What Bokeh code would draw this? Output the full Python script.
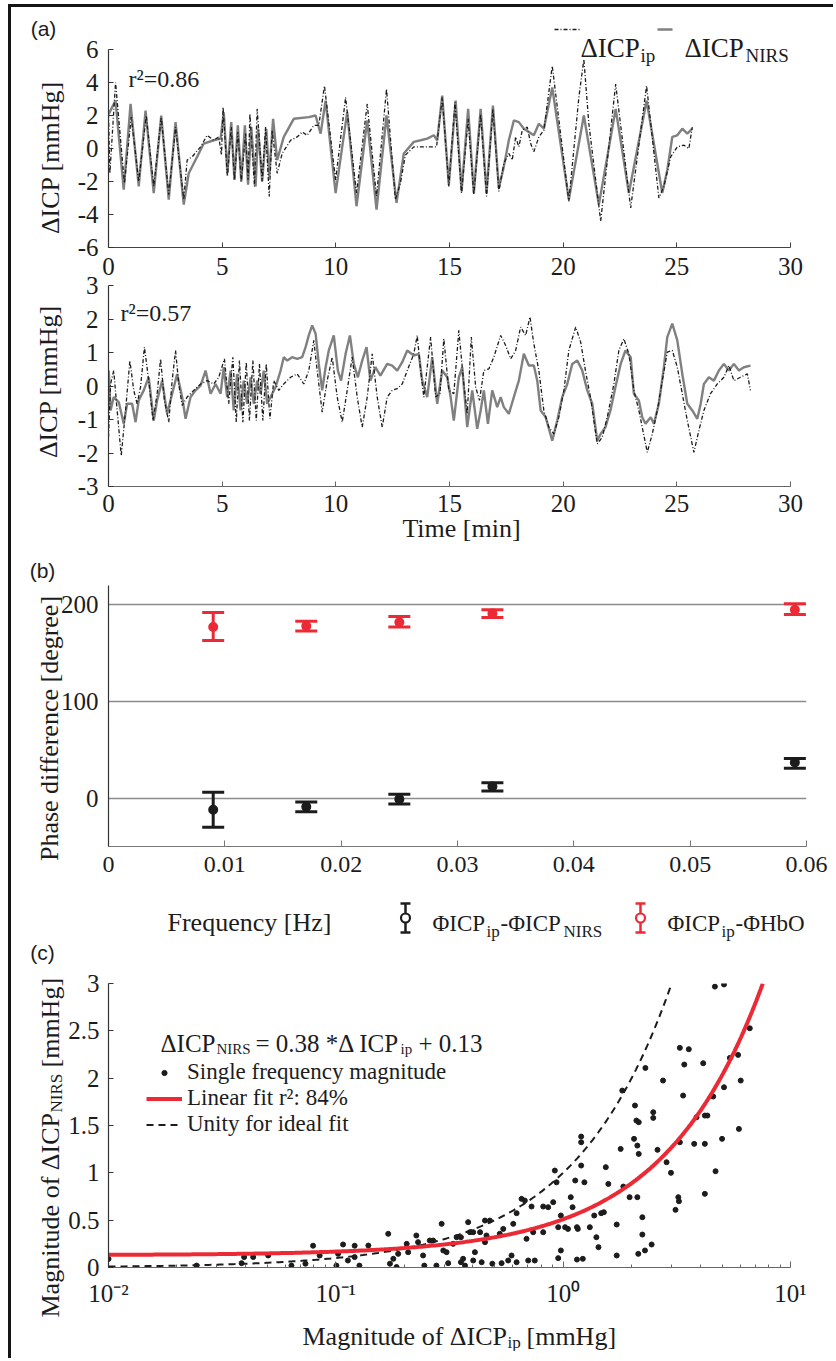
import numpy as np
from bokeh.plotting import figure
from bokeh.models import (Range1d, FixedTicker, Label, Whisker, TeeHead, ColumnDataSource,
                          Legend, LegendItem, Div, CustomJSTickFormatter)
from bokeh.layouts import column, row
from bokeh.embed import file_html
from bokeh.resources import INLINE

# ======================= DATA =======================
time_ticks = [0, 5, 10, 15, 20, 25, 30]
a1_ticks = [-6, -4, -2, 0, 2, 4, 6]
a2_ticks = [-3, -2, -1, 0, 1, 2, 3]
a1_r2 = "r²=0.86"
a2_r2 = "r²=0.57"

# panel (a) top: (time [min], dICP [mmHg])
a1_nirs = [(0.01, 2.1), (0.31, 2.9), (0.67, -2.5), (0.97, 2.7), (1.33, -2.3), (1.63, 2.3), (1.99, -2.7),
           (2.32, 2.0), (2.65, -3.1), (2.95, 1.6), (3.31, -3.4), (3.53, -1.5), (3.90, -0.5), (4.19, 0.3),
           (4.63, 0.5), (4.93, 0.6), (5.07, 2.2), (5.23, -1.5), (5.40, 1.6), (5.54, -1.9), (5.69, 1.4),
           (5.84, -2.0), (6.00, 1.4), (6.14, -2.2), (6.28, 1.3), (6.47, -2.3), (6.58, 1.2), (6.76, -2.0),
           (6.94, 1.2), (7.07, -1.7), (7.24, 1.8), (7.42, -0.7), (7.71, 0.7), (8.15, 1.8), (8.81, 1.9),
           (9.11, 2.0), (9.33, 0.9), (9.55, 2.9), (9.99, -2.7), (10.50, 2.2), (10.91, -3.5), (11.38, 1.7),
           (11.79, -3.7), (12.23, 2.0), (12.67, -3.3), (12.99, -0.3), (13.43, 0.4), (13.73, 0.5),
           (14.02, 0.6), (14.31, 0.8), (14.46, 0.5), (14.68, 3.2), (14.97, -2.2), (15.27, 2.9),
           (15.53, -2.6), (15.82, 2.4), (16.07, -2.7), (16.37, 2.4), (16.63, -2.7), (16.91, 2.6),
           (17.17, -2.4), (17.39, -1.1), (17.61, 0.5), (17.83, 1.7), (18.05, 1.6), (18.27, 1.2),
           (18.49, 1.0), (18.71, 0.8), (18.93, 1.5), (19.15, 1.2), (19.52, 3.7), (20.25, -3.1),
           (20.91, 2.0), (21.57, -3.4), (22.31, 2.4), (22.89, -2.7), (23.67, 2.9), (24.36, -2.7),
           (24.58, -1.3), (24.80, 0.7), (25.02, 0.8), (25.24, 1.2), (25.46, 0.9), (25.68, 1.2)]
a1_ip = [(0.0, 2.1), (0.06, -1.5), (0.31, 4.0), (0.70, -2.1), (1.00, 1.9), (1.33, -2.0), (1.66, 2.0),
         (1.99, -2.3), (2.32, 1.9), (2.65, -2.8), (2.95, 1.3), (3.31, -3.1), (3.46, -0.7), (3.68, -0.5),
         (4.05, 0.1), (4.34, 0.8), (4.63, 0.5), (4.85, 0.7), (4.97, -0.4), (5.04, 2.5), (5.23, -1.7),
         (5.40, 1.3), (5.54, -1.9), (5.69, 1.0), (5.84, -2.0), (6.03, 0.9), (6.14, -1.9), (6.22, 2.1),
         (6.42, -2.3), (6.54, 2.4), (6.76, -2.0), (6.91, 1.3), (7.07, -2.9), (7.20, 1.1), (7.42, -1.5),
         (7.64, -0.3), (8.01, 0.5), (8.30, 0.7), (8.52, 1.0), (8.74, 0.8), (9.03, 1.4), (9.25, 1.4),
         (9.50, 3.8), (9.99, -1.9), (10.43, 3.1), (10.91, -2.7), (11.38, 2.7), (11.79, -2.9),
         (12.23, 3.6), (12.62, -3.1), (12.84, -2.1), (13.06, -0.4), (13.43, 0.1), (14.02, 0.1),
         (14.43, 0.1), (14.68, 3.1), (14.97, -2.3), (15.24, 2.8), (15.53, -2.7), (15.82, 1.8),
         (16.07, -2.8), (16.37, 2.1), (16.63, -2.9), (16.91, 2.4), (17.17, -2.6), (17.39, -0.9),
         (17.61, -0.3), (17.76, -0.7), (17.91, 0.7), (18.05, 0.1), (18.20, 1.1), (18.42, 1.3),
         (18.57, 0.3), (18.71, -0.2), (18.93, 0.7), (19.15, 1.1), (19.52, 5.0), (20.25, -3.2),
         (20.69, 3.1), (20.91, 5.4), (21.13, 1.5), (21.65, -4.4), (22.31, 3.9), (22.97, -3.6),
         (23.67, 3.8), (24.21, -3.0), (24.43, -2.3), (24.73, -0.5), (25.02, 0.1), (25.31, 0.2),
         (25.53, 0.0), (25.68, 1.3)]

# panel (a) bottom
a2_nirs = [(0.01, 0.46), (0.09, -0.73), (0.23, -0.33), (0.45, -0.48), (0.67, -1.13), (0.82, -0.53),
           (1.04, -0.53), (1.19, -1.08), (1.33, -0.43), (1.55, -0.13), (1.77, 0.26), (1.99, -1.03),
           (2.14, -0.43), (2.36, 0.16), (2.58, -0.83), (2.80, -0.23), (3.02, 0.36), (3.24, -0.33),
           (3.39, -0.98), (3.61, -0.33), (3.83, -0.13), (4.05, 0.01), (4.27, 0.46), (4.49, -0.23),
           (4.71, 0.06), (4.93, -0.23), (5.07, 0.56), (5.22, -0.33), (5.37, 0.46), (5.51, -0.73),
           (5.66, 0.36), (5.81, -0.73), (5.95, 0.16), (6.10, -0.53), (6.25, 0.26), (6.39, -0.53),
           (6.54, 0.16), (6.69, -0.23), (6.83, 0.46), (6.98, -0.53), (7.13, -0.33), (7.35, -0.03),
           (7.57, 0.46), (7.71, 0.86), (7.86, 0.76), (8.08, 0.86), (8.30, 0.81), (8.52, 0.86),
           (8.67, 1.16), (8.81, 1.51), (8.96, 1.81), (9.11, 1.56), (9.25, 0.66), (9.40, -0.13),
           (9.55, 0.56), (9.69, 1.06), (9.91, 1.51), (10.09, 0.46), (10.23, 0.16), (10.43, 0.96),
           (10.62, 1.51), (10.79, 0.66), (10.97, 0.26), (11.16, 0.76), (11.35, 1.16), (11.52, 0.16),
           (11.74, 0.56), (11.96, 0.31), (12.26, 0.66), (12.48, 0.61), (12.70, 0.46), (12.92, 0.71),
           (13.14, 1.06), (13.43, 0.91), (13.65, 0.96), (13.80, 0.16), (14.02, -0.33), (14.24, 0.86),
           (14.46, -0.53), (14.68, 0.46), (14.90, 0.26), (15.05, -0.33), (15.19, -1.03), (15.41, 0.26),
           (15.56, 0.56), (15.78, -1.23), (16.00, -0.13), (16.22, -1.28), (16.37, -0.73), (16.51, -0.13),
           (16.69, -1.13), (16.88, -0.13), (17.10, -0.63), (17.25, -0.33), (17.39, -0.63), (17.61, -0.83),
           (17.83, -0.33), (18.05, 0.16), (18.27, 0.96), (18.49, 0.61), (18.71, 0.61), (18.86, 0.16),
           (19.01, -0.73), (19.23, -0.93), (19.52, -1.63), (19.74, -1.03), (19.96, -0.33), (20.18, 0.06),
           (20.40, 0.66), (20.62, 0.76), (20.84, 0.46), (21.06, -0.13), (21.28, -0.53), (21.50, -1.63),
           (21.65, -1.43), (21.86, -1.23), (22.08, -0.73), (22.30, -0.03), (22.53, 0.66), (22.74, 1.06),
           (22.97, 0.86), (23.11, -0.23), (23.33, -0.43), (23.48, -0.93), (23.62, -1.13), (23.85, -0.93),
           (23.99, -1.13), (24.21, -0.53), (24.43, 0.56), (24.58, 1.46), (24.80, 1.86), (25.02, 1.36),
           (25.24, 0.36), (25.46, -0.53), (25.68, -0.73), (25.90, -0.98), (26.05, -0.53), (26.19, 0.06),
           (26.41, 0.26), (26.63, 0.16), (26.85, 0.46), (27.07, 0.66), (27.29, 0.46), (27.51, 0.66),
           (27.73, 0.46), (27.95, 0.56), (28.24, 0.61)]
a2_ip = [(0.0, -1.53), (0.09, 0.06), (0.23, 0.46), (0.38, -0.73), (0.56, -2.08), (0.75, -0.73),
         (0.94, 0.76), (1.11, -0.13), (1.26, -0.53), (1.41, -0.03), (1.58, 1.16), (1.77, 0.16),
         (1.96, -1.03), (2.14, -0.23), (2.29, 0.81), (2.46, -0.43), (2.65, -1.08), (2.80, 0.16),
         (2.95, 1.06), (3.09, 0.06), (3.24, -0.58), (3.46, -0.33), (3.75, -0.13), (4.05, 0.06),
         (4.34, 0.16), (4.63, 0.06), (4.85, 0.26), (5.10, 0.81), (5.29, -0.53), (5.47, 0.86),
         (5.62, -1.08), (5.76, 0.76), (5.91, -1.08), (6.06, 0.71), (6.20, -1.03), (6.35, 0.76),
         (6.50, -1.03), (6.64, 0.66), (6.79, -1.03), (6.94, 0.66), (7.10, -0.98), (7.27, 0.16),
         (7.49, -0.13), (7.71, 0.06), (8.01, 0.26), (8.30, 0.36), (8.59, 0.06), (8.81, 0.46),
         (9.03, 1.36), (9.18, 0.46), (9.40, -0.78), (9.62, 0.16), (9.84, 0.86), (10.06, -0.33),
         (10.28, -1.08), (10.50, -0.13), (10.72, 0.86), (10.94, -0.33), (11.16, -1.23), (11.38, -0.33),
         (11.60, 0.96), (11.82, -0.33), (12.04, -1.23), (12.26, -0.33), (12.48, -0.13), (12.70, -0.08),
         (12.92, 0.06), (13.14, 0.46), (13.43, 0.96), (13.58, 1.51), (13.73, 0.46), (13.87, -0.33),
         (14.17, 1.46), (14.39, -0.33), (14.58, -0.23), (14.75, 1.41), (14.97, -0.13), (15.19, -0.23),
         (15.41, 1.66), (15.63, 0.06), (15.78, -0.83), (15.96, 1.46), (16.15, -0.03), (16.32, -0.43),
         (16.51, 0.46), (16.73, 0.51), (16.95, 0.86), (17.25, 1.51), (17.47, 1.21), (17.69, 0.81),
         (17.91, 1.06), (18.13, 1.76), (18.35, 1.51), (18.54, 2.06), (18.71, 1.26), (18.93, 0.46),
         (19.15, -0.73), (19.37, -1.23), (19.59, -1.43), (19.81, -0.93), (20.03, -0.13), (20.25, 1.06),
         (20.55, 1.76), (20.77, 1.31), (20.98, 0.46), (21.20, -0.33), (21.50, -1.73), (21.72, -1.53),
         (21.94, -0.93), (22.23, 0.06), (22.45, 1.06), (22.67, 1.41), (22.89, 0.96), (23.11, -0.13),
         (23.33, -0.73), (23.70, -1.98), (23.92, -1.43), (24.14, -0.73), (24.36, 0.16), (24.58, 1.01),
         (24.80, 1.06), (25.02, 0.56), (25.24, -0.23), (25.46, -1.03), (25.75, -1.98), (25.97, -1.33),
         (26.19, -0.73), (26.48, -0.23), (26.78, 0.06), (27.07, 0.26), (27.29, 0.61), (27.51, 0.16),
         (27.80, 0.26), (28.10, 0.36), (28.24, -0.13)]

# panel (b): phase differences [degree] at frequencies [Hz]
freq_hz = [0.009, 0.017, 0.025, 0.033, 0.059]
nirs_phase = [-12, -9, -1, 12, 37]
nirs_lo = [-30, -14, -6, 7.5, 31]
nirs_hi = [6, -4, 4, 16, 41]
hbo_phase = [177, 178, 182, 191, 195]
hbo_lo = [163, 173, 177, 187, 190]
hbo_hi = [192, 183, 188, 195, 201]
freq_ticks = [0, 0.01, 0.02, 0.03, 0.04, 0.05, 0.06]
phase_ticks = [0, 100, 200]

# panel (c): (magnitude dICP_ip, magnitude dICP_NIRS) [mmHg]
mag_pairs = [(0.0100, 0.09), (0.0244, 0.02), (0.0385, 0.046), (0.0395, 0.11), (0.0433, 0.11),
             (0.0504, 0.127), (0.0638, 0.02), (0.0735, 0.04), (0.0794, 0.23), (0.0849, 0.127),
             (0.1006, 0.02), (0.1023, 0.144), (0.1076, 0.243), (0.113, 0.074), (0.121, 0.23),
             (0.121, 0.11), (0.127, 0.02), (0.139, 0.232), (0.170, 0.356), (0.173, 0.04),
             (0.185, 0.005), (0.179, 0.092), (0.188, 0.144), (0.205, 0.25), (0.208, 0.162),
             (0.226, 0.338), (0.230, 0.268), (0.242, 0.127), (0.245, 0.02), (0.259, 0.285),
             (0.268, 0.285), (0.277, 0.02), (0.292, 0.461), (0.297, 0.18), (0.307, 0.162),
             (0.312, 0.046), (0.328, 0.25), (0.340, 0.32), (0.355, 0.32), (0.355, 0.056),
             (0.363, 0.092), (0.370, 0.02), (0.382, 0.479), (0.389, 0.373), (0.402, 0.373),
             (0.402, 0.074), (0.409, 0.162), (0.431, 0.373), (0.438, 0.056), (0.453, 0.268),
             (0.453, 0.496), (0.476, 0.496), (0.460, 0.338), (0.488, 0.04), (0.526, 0.356),
             (0.536, 0.046), (0.545, 0.408), (0.573, 0.074), (0.593, 0.127), (0.603, 0.461),
             (0.624, 0.574), (0.624, 0.056), (0.656, 0.725), (0.678, 0.707), (0.690, 0.303),
             (0.702, 0.074), (0.726, 0.644), (0.738, 0.373), (0.750, 0.074), (0.817, 0.373),
             (0.817, 0.644), (0.859, 0.637), (0.904, 0.69), (0.919, 1.024), (0.935, 0.90),
             (0.951, 0.426), (0.951, 0.099), (0.977, 0.549), (0.977, 0.18), (1.02, 0.426),
             (1.05, 0.408), (1.08, 0.743), (1.10, 0.637), (1.13, 0.919), (1.15, 0.426),
             (1.15, 0.084), (1.16, 0.408), (1.20, 1.077), (1.20, 1.323), (1.20, 1.383),
             (1.22, 0.092), (1.24, 0.90), (1.31, 0.426), (1.37, 0.549), (1.40, 0.32), (1.43, 0.215),
             (1.47, 0.574), (1.51, 0.584), (1.54, 1.06), (1.58, 0.883), (1.72, 0.127), (1.72, 0.454),
             (1.79, 1.253), (1.84, 0.855), (1.96, 0.743), (2.05, 1.359), (2.07, 1.711), (2.10, 1.552),
             (2.12, 0.743), (2.12, 1.288), (2.15, 1.20), (2.15, 1.535), (2.14, 0.144), (2.23, 0.531),
             (2.23, 0.348), (2.29, 0.18), (2.45, 0.243), (2.49, 1.64), (2.49, 1.58), (2.60, 1.243),
             (2.75, 1.975), (2.85, 1.112), (2.98, 1.0), (3.12, 0.609), (3.21, 0.743), (3.23, 0.70),
             (3.26, 1.323), (3.37, 1.816), (3.77, 1.306), (3.86, 1.587), (4.20, 1.605), (4.31, 1.605),
             (4.20, 0.778), (4.20, 1.306), (4.68, 1.017), (5.00, 1.359), (5.10, 1.904), (5.93, 1.464),
             (6.04, 1.975), (4.65, 2.967), (5.10, 2.99), (3.26, 2.32), (3.57, 2.306), (2.30, 2.108),
             (3.41, 2.144), (4.13, 2.158), (1.82, 1.869), (6.62, 2.527), (5.41, 2.214), (5.88, 2.246),
             (4.57, 1.806)]
fit_slope, fit_intercept = 0.38, 0.13
mag_y_ticks = [0, 0.5, 1, 1.5, 2, 2.5, 3]
mag_x_decades = [-2, -1, 0, 1]

# ======================= STYLE / LAYOUT =======================
SERIF = "Liberation Serif"
SANS = "Liberation Sans"
INK = "#1c1c1c"
GRAY = "#808080"
RED = "#ec2a35"
ORG_X, ORG_Y = 8, 4      # page position of the left / top frame lines
PX0 = ORG_X + 3           # page x of the figures' left edge
FIG_W = 817


class Frame:
    """Frame box in page pixels and its data ranges, to place texts."""
    def __init__(self, L, R, T, B, x0, x1, y0, y1, logx=False):
        self.L, self.R, self.T, self.B = L, R, T, B
        self.x0, self.x1, self.y0, self.y1, self.logx = x0, x1, y0, y1, logx

    def x(self, px):
        f = (px - self.L) / (self.R - self.L)
        if self.logx:
            a, b = np.log10(self.x0), np.log10(self.x1)
            return float(10 ** (a + f * (b - a)))
        return self.x0 + f * (self.x1 - self.x0)

    def y(self, py):
        f = (self.B - py) / (self.B - self.T)
        return self.y0 + f * (self.y1 - self.y0)


def unzip(pairs):
    return [p[0] for p in pairs], [p[1] for p in pairs]


def make_fig(fr, height, top, bottom, x_axis_type="linear"):
    p = figure(width=FIG_W, height=height, x_range=Range1d(fr.x0, fr.x1), y_range=Range1d(fr.y0, fr.y1),
               x_axis_type=x_axis_type, output_backend="svg", toolbar_location=None,
               min_border_left=fr.L - PX0, min_border_right=PX0 + FIG_W - fr.R,
               min_border_top=top, min_border_bottom=bottom)
    p.frame_align = False
    p.outline_line_color = None
    p.grid.visible = False
    p.background_fill_color = "white"
    p.border_fill_color = "white"
    return p


def style_axis(ax, line_color="#333333", size="25px", standoff=10, tick_in=5):
    ax.axis_line_color = line_color
    ax.axis_line_width = 1.2
    ax.major_tick_line_color = line_color
    ax.major_tick_in = tick_in
    ax.major_tick_out = 0
    ax.minor_tick_line_color = None
    ax.major_label_text_font = SERIF
    ax.major_label_text_font_size = size
    ax.major_label_text_color = INK
    ax.major_label_standoff = standoff


plain_fmt = CustomJSTickFormatter(code="return tick.toString();")
log_fmt = CustomJSTickFormatter(code="""
const e = Math.round(Math.log10(tick));
const sup = {"-2": "\u207b\u00b2", "-1": "\u207b\u00b9", "0": "\u2070", "1": "\u00b9"};
return "10" + sup[String(e)];
""")

# page stack (page y): top bar 4..7, p1 7..285, p2 269..545 (overlaps 16 px, transparent),
# p3 545..940, p4 940..1351
# ---------- panel (a), top ----------
F1 = Frame(108, 790, 14, 247, 0, 30, -6, -6 + (247 - 14) * 12 / (247 - 49))
p1 = make_fig(F1, 278, 7, 38)
t, v = unzip(a1_nirs)
p1.line(t, v, line_color=GRAY, line_width=2.4)
t, v = unzip(a1_ip)
p1.line(t, v, line_color=INK, line_width=1.3, line_dash="4 2 1 2")
p1.xaxis.ticker = FixedTicker(ticks=time_ticks)
p1.yaxis.ticker = FixedTicker(ticks=a1_ticks)
p1.yaxis.formatter = plain_fmt
p1.yaxis.bounds = (a1_ticks[0], a1_ticks[-1])
style_axis(p1.xaxis[0], "#444444")
style_axis(p1.yaxis[0], "#333333")

# ---------- panel (a), bottom ----------
F2 = Frame(108, 790, 285, 486, 0, 30, -3, 3)
p2 = make_fig(F2, 276, 16, 59)
p2.margin = (-16, 0, 0, 0)
p2.border_fill_color = None
t, v = unzip(a2_nirs)
p2.line(t, v, line_color=GRAY, line_width=2.4)
t, v = unzip(a2_ip)
p2.line(t, v, line_color=INK, line_width=1.3, line_dash="4 2 1 2")
p2.xaxis.ticker = FixedTicker(ticks=time_ticks)
p2.yaxis.ticker = FixedTicker(ticks=a2_ticks)
p2.yaxis.formatter = plain_fmt
style_axis(p2.xaxis[0], "#666666", standoff=8)
style_axis(p2.yaxis[0], "#333333")

# ---------- panel (b) ----------
F3 = Frame(108, 806, 585, 846, 0, 0.06, -50, 220)
p3 = make_fig(F3, 395, 40, 94)
p3.xaxis.ticker = FixedTicker(ticks=freq_ticks)
p3.xaxis.formatter = plain_fmt
p3.yaxis.ticker = FixedTicker(ticks=phase_ticks)
p3.yaxis.formatter = plain_fmt
p3.ygrid.visible = True
p3.ygrid.ticker = FixedTicker(ticks=phase_ticks)
p3.ygrid.grid_line_color = "#8c8c8c"
p3.ygrid.grid_line_width = 1.3
style_axis(p3.xaxis[0], "#777777", size="24px", standoff=10, tick_in=6)
style_axis(p3.yaxis[0], "#333333", tick_in=0)
src_n = ColumnDataSource(dict(f=freq_hz, m=nirs_phase, lo=nirs_lo, hi=nirs_hi))
src_h = ColumnDataSource(dict(f=freq_hz, m=hbo_phase, lo=hbo_lo, hi=hbo_hi))
for src, col in ((src_n, INK), (src_h, RED)):
    p3.add_layout(Whisker(source=src, base="f", lower="lo", upper="hi", dimension="height",
                          line_color=col, line_width=3,
                          upper_head=TeeHead(size=22, line_color=col, line_width=3),
                          lower_head=TeeHead(size=22, line_color=col, line_width=3)))
    p3.scatter("f", "m", source=src, marker="circle", size=8, line_color=col, line_width=2,
               fill_color=col)

# ---------- panel (c) ----------
F4 = Frame(108, 790, 983, 1267, 0.01, 10, 0, 3, logx=True)
p4 = make_fig(F4, 411, 43, 84, x_axis_type="log")
mx, my = unzip(mag_pairs)
r_sc = p4.scatter(mx, my, marker="circle", size=5, color=INK)
x_top = (mag_y_ticks[-1] - fit_intercept) / fit_slope
xs_fit = np.logspace(np.log10(F4.x0), np.log10(x_top), 300)
xs_u = np.logspace(np.log10(F4.x0), np.log10(mag_y_ticks[-1]), 300)
r_un = p4.line(xs_u, xs_u, line_color=INK, line_width=2, line_dash="7 5")
r_fit = p4.line(xs_fit, fit_slope * xs_fit + fit_intercept, line_color=RED, line_width=4)
p4.xaxis.ticker = FixedTicker(ticks=[10.0 ** e for e in mag_x_decades],
                              minor_ticks=[k * 10.0 ** e for e in mag_x_decades[:-1] for k in range(2, 10)])
p4.xaxis.formatter = log_fmt
p4.yaxis.ticker = FixedTicker(ticks=mag_y_ticks)
p4.yaxis.formatter = plain_fmt
style_axis(p4.xaxis[0], "#666666", standoff=12, tick_in=6)
p4.xaxis[0].minor_tick_line_color = "#666666"
p4.xaxis[0].minor_tick_in = 3
p4.xaxis[0].minor_tick_out = 0
style_axis(p4.yaxis[0], "#333333", standoff=9)
leg = Legend(items=[LegendItem(label="Single frequency magnitude", renderers=[r_sc]),
                    LegendItem(label="Linear fit r²: 84%", renderers=[r_fit]),
                    LegendItem(label="Unity for ideal fit", renderers=[r_un])],
             location=(38, 130), orientation="vertical", label_text_font=SERIF,
             label_text_font_size="23px", label_text_color=INK, glyph_width=36, glyph_height=13,
             label_height=25, label_standoff=5, spacing=0, padding=0, margin=0,
             border_line_color=None, background_fill_alpha=0)
p4.add_layout(leg)

# ---------- transparent overlay holding the texts and legend keys (page pixel coords) ----------
COL_H = 3 + 278 + 276 - 16 + 395 + 411
FO = Frame(PX0, PX0 + FIG_W, ORG_Y, ORG_Y + COL_H, PX0, PX0 + FIG_W, ORG_Y + COL_H, ORG_Y)
po = figure(width=FIG_W, height=COL_H, x_range=Range1d(FO.x0, FO.x1), y_range=Range1d(FO.y0, FO.y1),
            x_axis_location=None, y_axis_location=None, output_backend="svg", toolbar_location=None,
            min_border=0, min_border_left=0, min_border_right=0, min_border_top=0, min_border_bottom=0)
po.frame_align = False
po.margin = (-COL_H, 0, 0, 0)
po.outline_line_color = None
po.background_fill_color = None
po.border_fill_color = None
po.grid.visible = False


def put(px, py, text, size, font=SERIF, align="left", baseline="alphabetic", angle=0.0, color=INK):
    po.add_layout(Label(x=FO.x(px), y=FO.y(py), text=text, text_font=font, text_font_size=size,
                        text_color=color, text_align=align, text_baseline=baseline, angle=angle))


ROT = np.pi / 2
# (a)
po.segment(x0=[554], y0=[29], x1=[580], y1=[29], line_color=INK, line_width=1.3, line_dash="4 2 1 2")
po.segment(x0=[657], y0=[29], x1=[672], y1=[29], line_color=GRAY, line_width=2.4)
put(580, 47, "ΔICP", "27px")
put(640, 55, "ip", "19px")
put(684, 47, "ΔICP", "27px")
put(745, 55, "NIRS", "19px")
put(43, 28, "(a)", "21px", font=SANS, align="center", baseline="middle")
put(128, 78, a1_r2, "24px")
put(50, 157, "ΔICP [mmHg]", "26px", align="center", angle=ROT)
put(120, 312, a2_r2, "24px")
put(48, 381, "ΔICP [mmHg]", "26px", align="center", angle=ROT)
put(461, 528, "Time [min]", "26px", align="center")
# (b)
put(42, 570, "(b)", "21px", font=SANS, align="center", baseline="middle")
put(49, 728, "Phase difference [degree]", "26px", align="center", angle=ROT)
for xc, col in ((405, INK), (640, RED)):
    po.segment(x0=[xc, xc - 5, xc - 5], y0=[903, 903, 932], x1=[xc, xc + 5, xc + 5], y1=[932, 903, 932],
               line_color=col, line_width=2.5)
    po.scatter([xc], [917.5], marker="circle", size=9, line_color=col, line_width=2.2, fill_color="white")
put(167, 922, "Frequency [Hz]", "26px")
put(432, 923, "ΦICP", "23px")
put(486, 931, "ip", "17px")
put(500, 923, "-ΦICP", "23px")
put(563, 931, "NIRS", "17px")
put(667, 923, "ΦICP", "23px")
put(721, 931, "ip", "17px")
put(735, 923, "-ΦHbO", "23px")
# (c)
put(42, 952, "(c)", "21px", font=SANS, align="center", baseline="middle")
put(160, 1043, "ΔICP", "25px")
put(216, 1048, "NIRS", "15px")
put(255, 1043, "= 0.38 *Δ ICP", "25px")
put(400, 1048, "ip", "15px")
put(418, 1043, "+ 0.13", "25px")
put(302, 1336, "Magnitude of ΔICP", "26px")
put(507, 1342, "ip", "17px")
put(526, 1336, "[mmHg]", "26px")
put(50, 1317, "Magnitude of ΔICP", "26px", angle=ROT)
put(56, 1112, "NIRS", "17px", angle=ROT)
put(50, 1067, "[mmHg]", "26px", angle=ROT)

# ---------- page frame lines ----------
top_bar = Div(text="", width=822, height=3, margin=0, styles={"background-color": "#151515"})
left_bar = Div(text="", width=3, height=1354, margin=0, styles={"background-color": "#151515"})

layout = row(left_bar, column(top_bar, p1, p2, p3, p4, po, spacing=0), spacing=0)
layout.margin = (ORG_Y, 0, 0, ORG_X)
with open("out.html", "w", encoding="utf-8") as fh:
    fh.write(file_html(layout, INLINE))
